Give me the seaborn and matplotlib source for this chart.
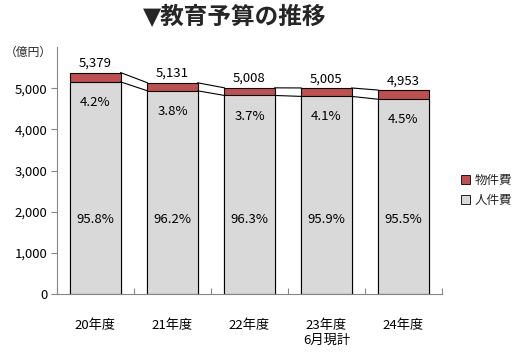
import matplotlib
matplotlib.use("Agg")
import matplotlib.pyplot as plt
import seaborn as sns
import pandas as pd
import numpy as np
from matplotlib.ticker import FuncFormatter, FixedLocator

categories = ["20年度", "21年度", "22年度", "23年度\n6月現計", "24年度"]
totals = [5379, 5131, 5008, 5005, 4953]
mono_pct = [4.2, 3.8, 3.7, 4.1, 4.5]      # 物件費
jinken_pct = [95.8, 96.2, 96.3, 95.9, 95.5]  # 人件費
jinken = [round(t * p / 100) for t, p in zip(totals, jinken_pct)]

sns.set_theme(style="white")
plt.rcParams['font.family'] = ['Noto Sans CJK JP', 'DejaVu Sans']

RED = "#C0504D"
GRAY = "#D9D9D9"
AX = "#868686"

df = pd.DataFrame({"cat": categories, "total": totals, "jinken": jinken})

fig = plt.figure(figsize=(5.18, 3.56), dpi=100)
ax = fig.add_axes([57/518, 62/356, 385/518, 247/356])

W = 0.65
sns.barplot(data=df, x="cat", y="total", color=RED, saturation=1, width=W,
            edgecolor="black", linewidth=0.8, ax=ax, label="物件費")
sns.barplot(data=df, x="cat", y="jinken", color=GRAY, saturation=1, width=W,
            edgecolor="black", linewidth=0.8, ax=ax, label="人件費")

# series lines
for i in range(len(categories) - 1):
    ax.plot([i + W/2, i + 1 - W/2], [totals[i], totals[i+1]], color="black", lw=0.8, zorder=1)
    ax.plot([i + W/2, i + 1 - W/2], [jinken[i], jinken[i+1]], color="black", lw=0.8, zorder=1)

for i in range(len(categories)):
    ax.annotate(f"{totals[i]:,}", (i, totals[i]), xytext=(0, 2), textcoords="offset points",
                ha="center", va="bottom", fontsize=9.5, color="black")
    ax.text(i, jinken[i] - 500, f"{mono_pct[i]}%", ha="center", va="center", fontsize=9.5, color="black")
    ax.text(i, 1800, f"{jinken_pct[i]}%", ha="center", va="center", fontsize=9.5, color="black")

ax.set_ylim(0, 6000)
ax.set_xlim(-0.5, len(categories) - 0.5)
ax.set_yticks(range(0, 6000, 1000))
ax.yaxis.set_major_formatter(FuncFormatter(lambda v, p: f"{int(v):,}"))
ax.set_xlabel("")
ax.set_ylabel("")

for s in ["top", "right"]:
    ax.spines[s].set_visible(False)
for s in ["left", "bottom"]:
    ax.spines[s].set_color(AX)
    ax.spines[s].set_linewidth(0.8)

ax.tick_params(axis="y", which="major", direction="out", length=4, color=AX, width=0.8,
               labelsize=9.5, labelcolor="black", left=True, pad=3)
ax.tick_params(axis="x", which="major", length=0, labelsize=9.5, labelcolor="black", pad=18)
ax.xaxis.set_minor_locator(FixedLocator(np.arange(-0.5, len(categories), 1.0)))
ax.tick_params(axis="x", which="minor", direction="in", length=4, color=AX, width=0.8, bottom=True)

fig.text(57/518 - 52/518, 1 - 52/356, "（億円）", fontsize=8.5, ha="left", va="center")
fig.text(235/518, 1 - 17/356, "▼教育予算の推移", fontsize=17, fontweight="bold",
         ha="center", va="center", family=['DejaVu Sans', 'Noto Sans CJK JP'])

leg = ax.legend(loc="center left", bbox_to_anchor=(1.02, 0.42), frameon=False,
                fontsize=9, handlelength=0.7, handleheight=0.7, handletextpad=0.4,
                labelspacing=0.6)
for h in leg.legend_handles:
    h.set_linewidth(0.6)

fig.savefig("out.png", dpi=100)
